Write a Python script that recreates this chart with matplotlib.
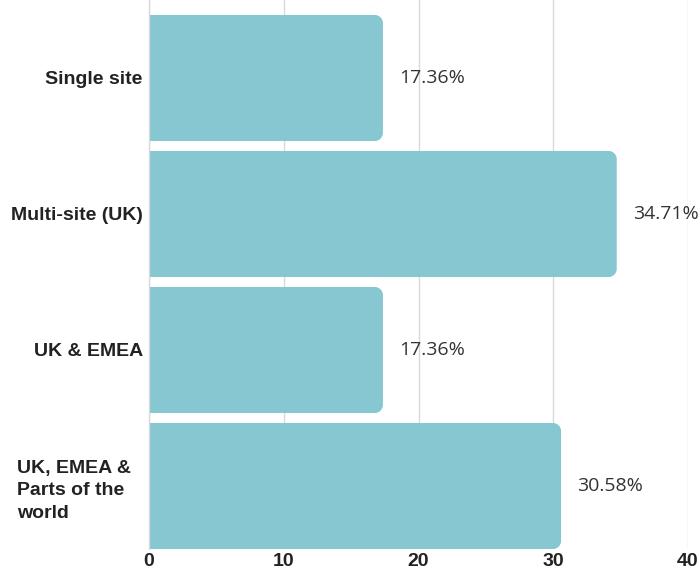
#!/usr/bin/env python3

import matplotlib
matplotlib.use('Agg')
import matplotlib.pyplot as plt
import matplotlib.transforms as mtransforms
from matplotlib.path import Path
from matplotlib.patches import PathPatch

categories = ['Single site', 'Multi-site (UK)', 'UK & EMEA',
              'UK, EMEA &\nParts of the\nworld']
values = [17.36, 34.71, 17.36, 30.58]
xticks = [0, 10, 20, 30, 40]

bar_color = '#86c7d1'
grid_color = '#d9d9d9'
bar_h = 126.0 / 136.0

fig = plt.figure(figsize=(7.0, 5.72), dpi=100)
ax = fig.add_axes([149 / 700, 1 - 549 / 572, 539 / 700, 549 / 572])

ax.set_xlim(0, 40)
ax.set_ylim(len(values) - 1 + bar_h / 2, -bar_h / 2 - 15.0 / 136.0)

# pixel -> data units for the corner radius
px_x = 40.0 / 539.0
px_y = (len(values) - 1 + bar_h + 15.0 / 136.0) / 549.0
r = 8.0
rx, ry = r * px_x, r * px_y
k = 0.5523


def right_rounded_bar(y, w):
    y0, y1 = y - bar_h / 2, y + bar_h / 2
    verts = [
        (0, y0), (w - rx, y0),
        (w - rx + k * rx, y0), (w, y0 + ry - k * ry), (w, y0 + ry),
        (w, y1 - ry),
        (w, y1 - ry + k * ry), (w - rx + k * rx, y1), (w - rx, y1),
        (0, y1), (0, y0),
    ]
    codes = [Path.MOVETO, Path.LINETO,
             Path.CURVE4, Path.CURVE4, Path.CURVE4,
             Path.LINETO,
             Path.CURVE4, Path.CURVE4, Path.CURVE4,
             Path.LINETO, Path.CLOSEPOLY]
    return Path(verts, codes)


for i, v in enumerate(values):
    ax.add_patch(PathPatch(right_rounded_bar(i, v), facecolor=bar_color,
                           edgecolor='none', zorder=2))
    ax.text(v + 16 * px_x, i, f'{v:.2f}%', ha='left', va='center',
            fontsize=14, family='Open Sans', color='#333333', zorder=3)

ax.set_xticks(xticks)
ax.set_xticklabels([str(t) for t in xticks], fontsize=14,
                   fontweight='bold', family='Liberation Sans', color='#222222')
ax.set_yticks(range(len(categories)))
ax.set_yticklabels(categories, fontsize=14, fontweight='bold',
                   family='Liberation Sans', color='#222222',
                   multialignment='left', linespacing=1.45)
ax.tick_params(axis='both', length=0)
ax.tick_params(axis='x', pad=3)
ax.tick_params(axis='y', pad=4.5)

# the wrapped label sits a little further left
lbl = ax.yaxis.get_major_ticks()[3].label1
lbl.set_transform(lbl.get_transform() +
                  mtransforms.ScaledTranslation(-0.12, 0, fig.dpi_scale_trans))

ax.grid(axis='x', color=grid_color, linewidth=1, zorder=0)
ax.set_axisbelow(True)
for side in ['top', 'right', 'bottom']:
    ax.spines[side].set_visible(False)
ax.spines['left'].set_color(grid_color)
ax.spines['left'].set_linewidth(1)

fig.savefig('out.png', dpi=100)
